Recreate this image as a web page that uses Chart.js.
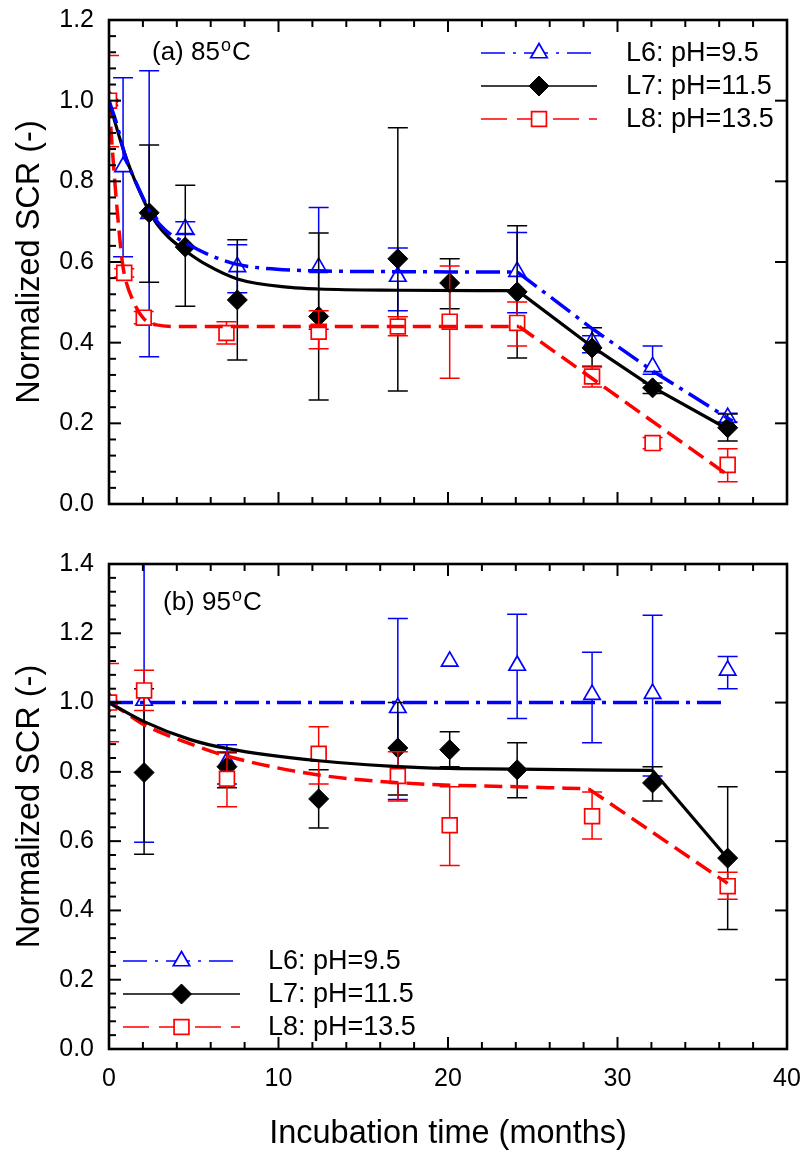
<!DOCTYPE html>
<html>
<head>
<meta charset="utf-8">
<title>Normalized SCR vs incubation time</title>
<script src="https://cdn.jsdelivr.net/npm/chart.js@4.4.1/dist/chart.umd.min.js"></script>
<style>
  html, body { margin: 0; padding: 0; background: #ffffff; }
  #wrap { position: relative; width: 804px; height: 1155px; overflow: hidden; }
  #wrap canvas { position: absolute; left: 0; }
</style>
</head>
<body>
<div id="wrap">
  <canvas id="panelA" width="804" height="540" style="top:0px"></canvas>
  <canvas id="panelB" width="804" height="615" style="top:540px"></canvas>
</div>
<script>
// ---------------------------------------------------------------
// Series names (legend order)
// ---------------------------------------------------------------
const seriesNames = ['L6: pH=9.5', 'L7: pH=11.5', 'L8: pH=13.5'];

// ---------------------------------------------------------------
// (a) 85 °C — measured points: time (months), mean, error-bar low/high
// ---------------------------------------------------------------
const t85L6   = [0, 0.83, 2.37, 4.5, 7.57, 12.37, 17.04, 24.08, 28.5, 32.07, 36.5];
const scr85L6 = [1.0, 0.836, 0.72, 0.682, 0.588, 0.586, 0.564, 0.576, 0.402, 0.34, 0.214];
const lo85L6  = [null, 0.613, 0.365, 0.668, 0.524, 0.433, 0.479, 0.474, 0.375, 0.322, 0.203];
const hi85L6  = [null, 1.057, 1.074, 0.70, 0.643, 0.735, 0.635, 0.673, 0.417, 0.392, 0.225];

const t85L7   = [0, 2.37, 4.5, 7.57, 12.37, 17.04, 20.1, 24.08, 28.5, 32.07, 36.5];
const scr85L7 = [1.0, 0.722, 0.637, 0.506, 0.465, 0.608, 0.548, 0.526, 0.387, 0.288, 0.189];
const lo85L7  = [null, 0.55, 0.49, 0.357, 0.258, 0.28, 0.484, 0.362, 0.34, 0.274, 0.156];
const hi85L7  = [null, 0.89, 0.79, 0.655, 0.672, 0.933, 0.608, 0.69, 0.437, 0.30, 0.223];

const t85L8   = [0, 0.9, 2.05, 6.93, 12.37, 17.04, 20.1, 24.08, 28.5, 32.07, 36.5];
const scr85L8 = [1.0, 0.573, 0.462, 0.424, 0.427, 0.44, 0.452, 0.449, 0.316, 0.151, 0.097];
const lo85L8  = [0.886, 0.563, 0.447, 0.397, 0.385, 0.417, 0.312, 0.392, 0.29, 0.137, 0.055];
const hi85L8  = [1.112, 0.583, 0.477, 0.452, 0.479, 0.464, 0.59, 0.501, 0.342, 0.165, 0.137];

// (a) fitted trends: smooth decay part and the late linear drop
const fit85L6_t  = [0, 0.4, 1.05, 1.4, 2.0, 2.37, 3.3, 4.5, 5.9, 7.57, 9.9, 12.37, 17, 24.1];
const fit85L6_v  = [1.0, 0.95, 0.85, 0.815, 0.76, 0.728, 0.68, 0.648, 0.618, 0.594, 0.582, 0.578, 0.576, 0.575];
const tail85L6_t = [24.1, 28.5, 32.07, 36.8];
const tail85L6_v = [0.575, 0.435, 0.33, 0.205];

const fit85L7_t  = [0, 0.4, 0.85, 1.4, 2.0, 2.37, 2.82, 3.5, 4.5, 5.8, 7.57, 10.7, 12.37, 17, 24.1];
const fit85L7_v  = [1.0, 0.94, 0.878, 0.815, 0.757, 0.725, 0.695, 0.662, 0.628, 0.592, 0.558, 0.537, 0.533, 0.530, 0.529];
const tail85L7_t = [24.1, 28.5, 32.07, 36.5];
const tail85L7_v = [0.529, 0.39, 0.29, 0.186];

const fit85L8_t  = [0, 0.25, 0.5, 0.77, 0.9, 1.4, 2.0, 2.8, 4, 24.2];
const fit85L8_v  = [1.0, 0.85, 0.72, 0.605, 0.57, 0.506, 0.462, 0.444, 0.44, 0.44];
const tail85L8_t = [24.2, 36.5];
const tail85L8_v = [0.44, 0.072];

// ---------------------------------------------------------------
// (b) 95 °C — measured points
// ---------------------------------------------------------------
const t95L6   = [0, 2.07, 6.96, 17.04, 20.1, 24.08, 28.5, 32.07, 36.5];
const scr95L6 = [1.0, 1.006, 0.83, 0.985, 1.119, 1.107, 1.023, 1.026, 1.093];
const lo95L6  = [null, 0.597, 0.765, 0.72, null, 0.954, 0.884, 0.788, 1.04];
const hi95L6  = [null, 1.45, 0.878, 1.243, null, 1.255, 1.145, 1.252, 1.133];

const t95L7   = [0, 2.07, 6.96, 12.37, 17.04, 20.1, 24.08, 32.07, 36.5];
const scr95L7 = [1.0, 0.798, 0.815, 0.722, 0.869, 0.864, 0.806, 0.768, 0.551];
const lo95L7  = [null, 0.562, 0.754, 0.638, 0.733, 0.815, 0.725, 0.716, 0.345];
const hi95L7  = [null, 1.04, 0.855, 0.806, 1.0, 0.916, 0.884, 0.815, 0.757];

const t95L8   = [0, 2.07, 6.96, 12.37, 17.04, 20.1, 28.5, 36.5];
const scr95L8 = [1.0, 1.035, 0.78, 0.852, 0.788, 0.646, 0.672, 0.47];
const lo95L8  = [0.887, 0.977, 0.699, 0.765, 0.716, 0.53, 0.606, 0.432];
const hi95L8  = [1.113, 1.093, 0.858, 0.93, 0.858, 0.757, 0.742, 0.51];

// (b) fitted trends
const tail95L6_t = [0, 36.3];
const tail95L6_v = [1.0, 1.0];

const fit95L7_t  = [0, 2.07, 4.8, 7, 12.37, 18.4, 24.08, 32.07];
const fit95L7_v  = [1.0, 0.945, 0.893, 0.867, 0.832, 0.812, 0.808, 0.804];
const tail95L7_t = [32.07, 36.5];
const tail95L7_v = [0.804, 0.55];

const fit95L8_t  = [0, 0.85, 2.07, 4.8, 7, 12.37, 18.4, 24.08, 28.3];
const fit95L8_v  = [1.0, 0.975, 0.936, 0.881, 0.845, 0.791, 0.765, 0.757, 0.751];
const tail95L8_t = [28.3, 36.5];
const tail95L8_v = [0.751, 0.478];

// Axis ranges and tick steps
const xRange = [0, 40], xMajor = 10, xMinor = 2;
const yRangeA = [0, 1.2], yRangeB = [0, 1.4], yMajor = 0.2, yMinor = 0.04;

// ---------------------------------------------------------------
// Styling
// ---------------------------------------------------------------
const FONT = "'Liberation Sans', Arial, Helvetica, sans-serif";
const STYLE = [
  { color: '#0000ff', pointStyle: 'triangle', radius: 9.5, fill: '#ffffff', border: 1.7,
    dash: [24, 7, 4, 7], width: 3.5, legendDash: [24, 8, 3, 8] },
  { color: '#000000', pointStyle: 'rectRot', radius: 10, fill: '#000000', border: 1,
    dash: [], width: 3.2, legendDash: [] },
  { color: '#ff0000', pointStyle: 'rect', radius: 10.5, fill: '#ffffff', border: 1.7,
    dash: [18, 8], width: 3.5, legendDash: [26, 10] }
];

const toPoints = (xs, ys) => xs.map((x, i) => ({ x: x, y: ys[i] }));

function markerSet(k, xs, ys, lo, hi) {
  const s = STYLE[k];
  return {
    label: seriesNames[k], data: toPoints(xs, ys), showLine: false,
    pointStyle: s.pointStyle, pointRadius: s.radius, pointHoverRadius: s.radius,
    pointBorderWidth: s.border, pointBackgroundColor: s.fill, pointBorderColor: s.color,
    borderColor: s.color, backgroundColor: s.fill,
    errLo: lo, errHi: hi, order: 3 - k
  };
}

function trendSet(k, xs, ys, smooth) {
  const s = STYLE[k];
  return {
    label: seriesNames[k] + ' trend', data: toPoints(xs, ys), showLine: true,
    borderColor: s.color, borderWidth: s.width, borderDash: s.dash,
    pointRadius: 0, pointHoverRadius: 0, fill: false,
    cubicInterpolationMode: smooth ? 'monotone' : 'default', tension: 0,
    order: 0
  };
}

// Error bars, drawn just before the markers of their series
const errorBars = {
  id: 'errorBars',
  beforeDatasetDraw(chart, args) {
    const ds = chart.data.datasets[args.index];
    if (!ds.errLo) return;
    const ctx = chart.ctx, a = chart.chartArea;
    const xs = chart.scales.x, ys = chart.scales.y;
    ctx.save();
    ctx.beginPath();
    ctx.rect(a.left, a.top, a.right - a.left, a.bottom - a.top);
    ctx.clip();
    ctx.strokeStyle = ds.borderColor;
    ctx.lineWidth = 1.5;
    ctx.setLineDash([]);
    ds.data.forEach((p, i) => {
      const lo = ds.errLo[i], hi = ds.errHi[i];
      if (lo === null || hi === null) return;
      const px = xs.getPixelForValue(p.x);
      const y1 = ys.getPixelForValue(lo), y2 = ys.getPixelForValue(hi);
      ctx.beginPath();
      ctx.moveTo(px, y1); ctx.lineTo(px, y2);
      ctx.moveTo(px - 10, y1); ctx.lineTo(px + 10, y1);
      ctx.moveTo(px - 10, y2); ctx.lineTo(px + 10, y2);
      ctx.stroke();
    });
    ctx.restore();
  }
};

// Box frame with inward ticks on all four sides
const frame = {
  id: 'frame',
  afterDatasetsDraw(chart) {
    const ctx = chart.ctx, a = chart.chartArea;
    const xs = chart.scales.x, ys = chart.scales.y;
    const line = (x1, y1, x2, y2) => { ctx.beginPath(); ctx.moveTo(x1, y1); ctx.lineTo(x2, y2); ctx.stroke(); };
    ctx.save();
    ctx.setLineDash([]);
    ctx.strokeStyle = '#000';
    ctx.lineWidth = 2;
    const nx = Math.round((xs.max - xs.min) / xMinor);
    const xr = Math.round(xMajor / xMinor);
    for (let k = 0; k <= nx; k++) {
      const px = xs.getPixelForValue(xs.min + k * xMinor);
      const len = (k % xr === 0) ? 12 : 7;
      line(px, a.bottom, px, a.bottom - len);
      line(px, a.top, px, a.top + len);
    }
    const ny = Math.round((ys.max - ys.min) / yMinor);
    const yr = Math.round(yMajor / yMinor);
    for (let k = 0; k <= ny; k++) {
      const py = ys.getPixelForValue(ys.min + k * yMinor);
      if (k % yr === 0) {
        line(a.left, py, a.left + 12, py);
        line(a.right, py, a.right - 12, py);
      } else {
        line(a.left, py, a.left + 7, py);
      }
    }
    ctx.lineWidth = 2.6;
    ctx.strokeRect(a.left, a.top, a.right - a.left, a.bottom - a.top);
    ctx.restore();
  }
};

// Legend box and panel caption
const decor = {
  id: 'decor',
  afterDraw(chart, args, opts) {
    const ctx = chart.ctx;
    ctx.save();
    // caption with superscript degree mark
    const c = opts.caption;
    ctx.fillStyle = '#000';
    ctx.textBaseline = 'alphabetic';
    ctx.textAlign = 'left';
    ctx.font = '26px ' + FONT;
    ctx.fillText(c.text, c.x, c.y);
    let cx = c.x + ctx.measureText(c.text).width + 1;
    ctx.font = '18px ' + FONT;
    ctx.fillText('o', cx, c.y - 9);
    cx += ctx.measureText('o').width + 1;
    ctx.font = '26px ' + FONT;
    ctx.fillText('C', cx, c.y);

    // legend rows
    const L = opts.legend;
    seriesNames.forEach((name, k) => {
      const s = STYLE[k];
      const y = L.y0 + k * L.gap;
      ctx.setLineDash(s.legendDash);
      ctx.lineDashOffset = 0;
      ctx.lineWidth = 1.7;
      ctx.strokeStyle = s.color;
      ctx.beginPath(); ctx.moveTo(L.x0, y); ctx.lineTo(L.x1, y); ctx.stroke();
      ctx.setLineDash([]);
      ctx.fillStyle = s.fill;
      ctx.strokeStyle = s.color;
      ctx.lineWidth = s.border;
      Chart.helpers.drawPoint(ctx, { pointStyle: s.pointStyle, radius: s.radius, borderWidth: s.border, rotation: 0 },
        (L.x0 + L.x1) / 2, y);
      ctx.fillStyle = '#000';
      ctx.font = '27px ' + FONT;
      ctx.textBaseline = 'middle';
      ctx.fillText(name, L.tx, y + 1);
    });
    ctx.restore();
  }
};

function makePanel(id, cfg) {
  const tickFont = { family: FONT, size: 25 };
  const titleFont = { family: FONT, size: 32.5 };
  return new Chart(document.getElementById(id), {
    type: 'scatter',
    data: { datasets: cfg.datasets },
    options: {
      responsive: false, animation: false, events: [],
      layout: { padding: { left: 0, right: 17, top: cfg.padTop, bottom: 0 } },
      plugins: {
        legend: { display: false }, tooltip: { enabled: false },
        decor: { caption: cfg.caption, legend: cfg.legend }
      },
      scales: {
        x: {
          type: 'linear', position: 'bottom', min: xRange[0], max: xRange[1],
          grid: { display: false, drawTicks: false }, border: { display: false },
          ticks: { display: cfg.showX, stepSize: xMajor, color: '#000', font: tickFont, padding: 15, maxRotation: 0 },
          title: { display: cfg.showX, text: 'Incubation time (months)', color: '#000', font: titleFont,
                   padding: { top: 0, bottom: 1 } },
          afterFit: s => { s.height = cfg.xHeight; s.paddingLeft = 0; s.paddingRight = 0; }
        },
        y: {
          type: 'linear', position: 'left', min: cfg.yRange[0], max: cfg.yRange[1],
          grid: { display: false, drawTicks: false }, border: { display: false },
          ticks: { stepSize: yMajor, color: '#000', font: tickFont, padding: 15,
                   callback: v => Number(v).toFixed(1) },
          title: { display: true, text: 'Normalized SCR (-)', color: '#000', font: titleFont,
                   padding: { top: 11, bottom: 0 } },
          afterFit: s => { s.width = 109; s.paddingTop = 0; s.paddingBottom = 0; }
        }
      }
    },
    plugins: [errorBars, frame, decor]
  });
}

// Panel (a): 85 °C
makePanel('panelA', {
  padTop: 20, xHeight: 36, showX: false, yRange: yRangeA,
  caption: { text: '(a) 85', x: 152, y: 60 },
  legend: { x0: 481, x1: 597, tx: 626, y0: 53, gap: 33 },
  datasets: [
    trendSet(0, fit85L6_t, fit85L6_v, true),
    trendSet(0, tail85L6_t, tail85L6_v, false),
    trendSet(1, fit85L7_t, fit85L7_v, true),
    trendSet(1, tail85L7_t, tail85L7_v, false),
    trendSet(2, fit85L8_t, fit85L8_v, true),
    trendSet(2, tail85L8_t, tail85L8_v, false),
    markerSet(0, t85L6, scr85L6, lo85L6, hi85L6),
    markerSet(1, t85L7, scr85L7, lo85L7, hi85L7),
    markerSet(2, t85L8, scr85L8, lo85L8, hi85L8)
  ]
});

// Panel (b): 95 °C
makePanel('panelB', {
  padTop: 24, xHeight: 106, showX: true, yRange: yRangeB,
  caption: { text: '(b) 95', x: 163, y: 70 },
  legend: { x0: 123, x1: 240, tx: 268, y0: 421, gap: 33 },
  datasets: [
    trendSet(0, tail95L6_t, tail95L6_v, false),
    trendSet(1, fit95L7_t, fit95L7_v, true),
    trendSet(1, tail95L7_t, tail95L7_v, false),
    trendSet(2, fit95L8_t, fit95L8_v, true),
    trendSet(2, tail95L8_t, tail95L8_v, false),
    markerSet(0, t95L6, scr95L6, lo95L6, hi95L6),
    markerSet(1, t95L7, scr95L7, lo95L7, hi95L7),
    markerSet(2, t95L8, scr95L8, lo95L8, hi95L8)
  ]
});
</script>
</body>
</html>
